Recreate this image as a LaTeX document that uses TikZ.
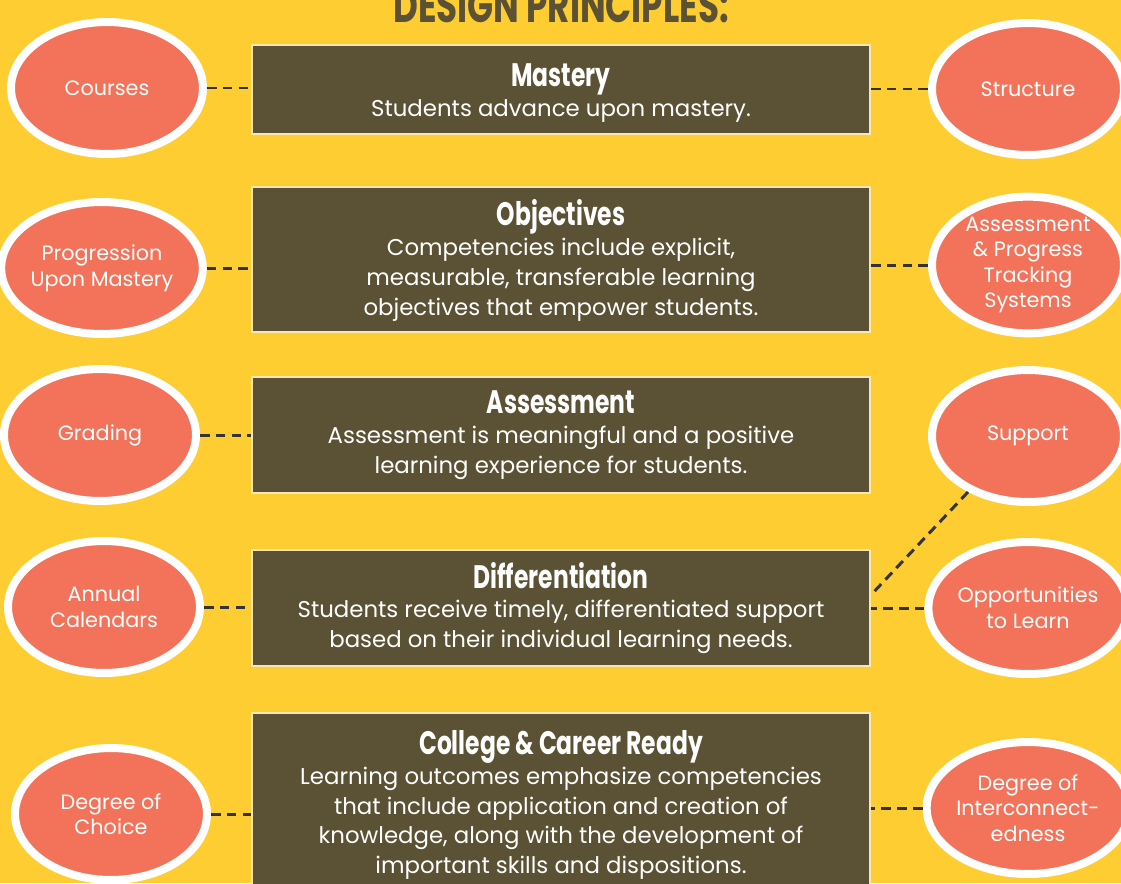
\documentclass[tikz,border=0pt]{standalone}
\usepackage{fontspec}
\setmainfont{Poppins}
\newfontfamily\headfont[FakeStretch=0.72]{Poppins}
\usetikzlibrary{shapes.geometric,positioning}
\definecolor{bgyellow}{HTML}{FDCD32}
\definecolor{olive}{HTML}{5B5134}
\definecolor{salmon}{HTML}{F2735A}
\definecolor{cream}{HTML}{F7E7B4}
\definecolor{dashgray}{HTML}{333333}
\newcommand{\boxtitle}[1]{{\headfont\bfseries\fontsize{18.5}{18}\selectfont #1}\\}

\begin{document}
\begin{tikzpicture}[x=0.02cm,y=-0.02cm,
	principle/.style={draw=cream,line width=1.1pt,fill=olive,text=white,align=center,
		minimum width=12.36cm,font=\fontsize{13}{17}\selectfont},
	pillar/.style={draw=white,line width=0.16cm,fill=salmon,ellipse,text=white,align=center,
		minimum width=3.84cm,minimum height=2.64cm,inner sep=0pt,font=\fontsize{11.8}{14.6}\selectfont},
	link/.style={draw=dashgray,line width=1.7pt,dash pattern=on 5.5pt off 3.5pt}]
		\fill[bgyellow] (0,0) rectangle (1121,883);
		\useasboundingbox (0,0) rectangle (1121,883);
		\node[anchor=base,text=olive,font=\headfont\bfseries\fontsize{27}{28}\selectfont] (title) at (561,22) {DESIGN PRINCIPLES:};
		% principle boxes:
		\node[principle,minimum height=1.78cm] (mastery) at (561,89.5) {\boxtitle{\rule{0pt}{17pt}Mastery}Students advance upon mastery.};
		\node[principle,minimum height=2.9cm] (objectives) at (561,259.5) {\boxtitle{\rule{0pt}{16pt}Objectives}Competencies include explicit,\\measurable, transferable learning\\objectives that empower students.};
		\node[principle,minimum height=2.32cm] (assessment) at (561,435) {\boxtitle{Assessment}Assessment is meaningful and a positive\\learning experience for students.};
		\node[principle,minimum height=2.32cm] (differentiation) at (561,608) {\boxtitle{Differentiation}Students receive timely, differentiated support\\based on their individual learning needs.};
		\node[principle,minimum height=3.7cm] (ready) at (561,805) {\boxtitle{College \& Career Ready}Learning outcomes emphasize competencies\\that include application and creation of\\knowledge, along with the development of\\important skills and dispositions.};
		% left pillars:
		\node[pillar] (courses) at (107,88) {Courses};
		\node[pillar] (progression) at (102,268) {Progression\\Upon Mastery};
		\node[pillar] (grading) at (100,435) {Grading};
		\node[pillar] (calendars) at (104,607) {Annual\\Calendars};
		\node[pillar] (choice) at (111,814) {Degree of\\Choice};
		% right pillars:
		\node[pillar] (structure) at (1028,89) {Structure};
		\node[pillar] (tracking) at (1028,265) {Assessment\\\& Progress\\Tracking\\Systems};
		\node[pillar] (support) at (1028,436) {Support};
		\node[pillar] (opportunities) at (1028,608) {Opportunities\\to Learn};
		\node[pillar] (interconnect) at (1028,808) {Degree of\\Interconnect-\\edness};
		% dashed links:
		\draw[link] (courses.east) -- (mastery.west |- courses.east);
		\draw[link] (progression.east) -- (objectives.west |- progression.east);
		\draw[link] (grading.east) -- (assessment.west |- grading.east);
		\draw[link] (calendars.east) -- (differentiation.west |- calendars.east);
		\draw[link] (choice.east) -- (ready.west |- choice.east);
		\draw[link] (structure.west) -- (mastery.east |- structure.west);
		\draw[link] (tracking.west) -- (objectives.east |- tracking.west);
		\draw[link] (support.223) -- ([yshift=0.26cm]differentiation.east);
		\draw[link] (opportunities.west) -- (differentiation.east |- opportunities.west);
		\draw[link] (interconnect.west) -- (ready.east |- interconnect.west);
\end{tikzpicture}
\end{document}
